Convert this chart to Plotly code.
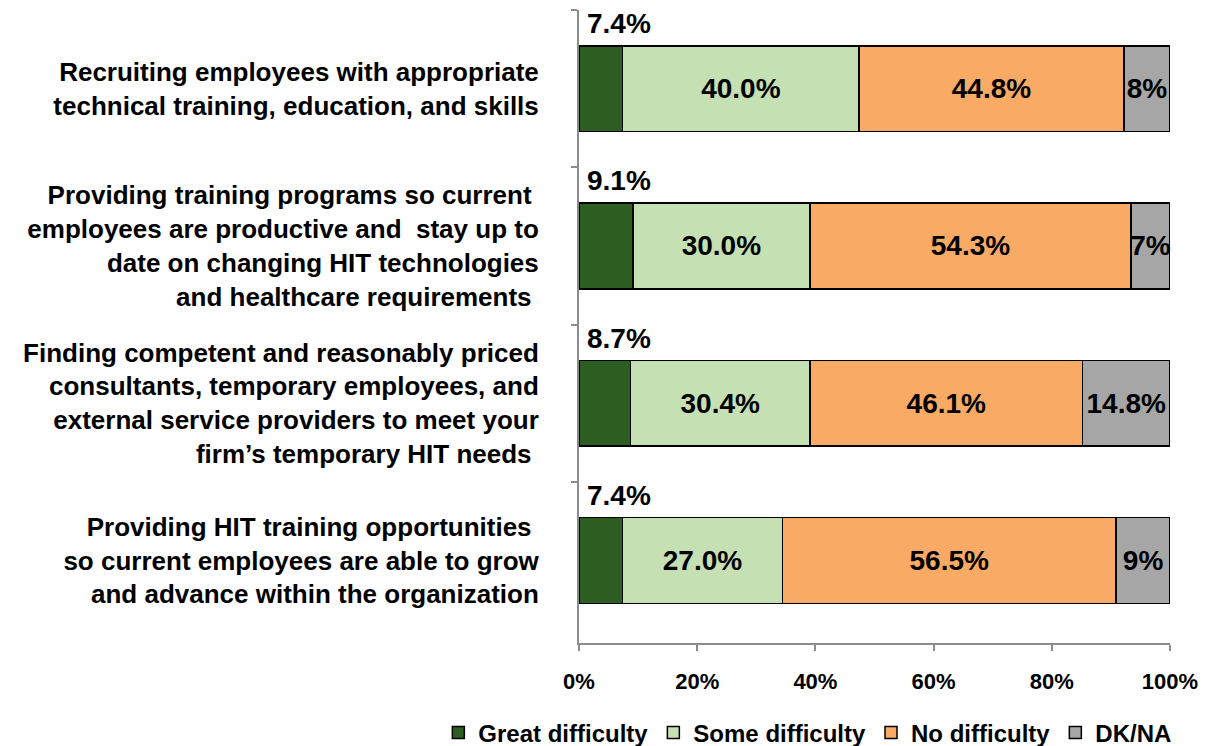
import plotly.graph_objects as go

categories = [
    "Recruiting employees with appropriate<br>technical training, education, and skills",
    "Providing training programs so current <br>employees are productive and  stay up to<br>date on changing HIT technologies<br>and healthcare requirements ",
    "Finding competent and reasonably priced<br>consultants, temporary employees, and<br>external service providers to meet your<br>firm’s temporary HIT needs ",
    "Providing HIT training opportunities <br>so current employees are able to grow<br>and advance within the organization",
]
great = [7.4, 9.1, 8.7, 7.4]
some = [40.0, 30.0, 30.4, 27.0]
none_ = [44.8, 54.3, 46.1, 56.5]
dkna = [7.8, 6.6, 14.8, 9.1]
dkna_labels = ["8%", "7%", "14.8%", "9%"]
series_names = ["Great difficulty", "Some difficulty", "No difficulty", "DK/NA"]
colors = ["#2c5e22", "#c5e0b3", "#f9aa64", "#a6a6a6"]
x_ticks = [0, 20, 40, 60, 80, 100]
x_ticktext = ["0%", "20%", "40%", "60%", "80%", "100%"]

FONT = "Liberation Sans"
fig = go.Figure()

series = [great, some, none_, dkna]
texts = [
    [""] * 4,
    [f"{v:.1f}%" for v in some],
    [f"{v:.1f}%" for v in none_],
    dkna_labels,
]
for name, vals, col, txt in zip(series_names, series, colors, texts):
    fig.add_trace(go.Bar(
        y=categories, x=vals, name=name, orientation="h",
        marker=dict(color=col, line=dict(color="black", width=1.5)),
        text=txt, textposition="inside", insidetextanchor="middle",
        textangle=0, constraintext="none", cliponaxis=False,
        textfont=dict(family=FONT, size=28, color="black", weight="bold"),
        hoverinfo="skip",
    ))

for cat, v in zip(categories, great):
    fig.add_annotation(
        x=0, y=cat, xref="x", yref="y", text=f"{v:.1f}%",
        showarrow=False, xanchor="left", yanchor="middle",
        xshift=6, yshift=65,
        font=dict(family=FONT, size=28, color="black", weight="bold"),
    )

fig.update_layout(
    barmode="stack",
    bargap=0.455,
    width=1201, height=738,
    margin=dict(l=571, r=39, t=2, b=103, autoexpand=False),
    plot_bgcolor="white", paper_bgcolor="white",
    font=dict(family=FONT, color="black", weight="bold"),
    showlegend=True,
    legend=dict(
        orientation="h", traceorder="normal",
        xref="paper", yref="paper",
        x=-0.238, xanchor="left", y=-0.142, yanchor="middle",
        font=dict(family=FONT, size=24, color="black", weight="bold"),
        itemwidth=30, tracegroupgap=0,
    ),
    xaxis=dict(
        range=[0, 100], tickvals=x_ticks, ticktext=x_ticktext,
        showgrid=False, zeroline=False,
        showline=True, linecolor="#8c8c8c", linewidth=2,
        ticks="outside", ticklen=6, tickcolor="#8c8c8c", tickwidth=2,
        tickfont=dict(family=FONT, size=22, color="black", weight="bold"),
        ticklabelstandoff=12,
    ),
    yaxis=dict(
        autorange="reversed", showgrid=False, zeroline=False,
        showline=True, linecolor="#8c8c8c", linewidth=2,
        ticks="outside", ticklen=6, tickcolor="#8c8c8c", tickwidth=2,
        tickson="boundaries",
        tickfont=dict(family=FONT, size=26, color="black", weight="bold"),
        ticklabelstandoff=33,
    ),
)

fig.write_html("out.html")
